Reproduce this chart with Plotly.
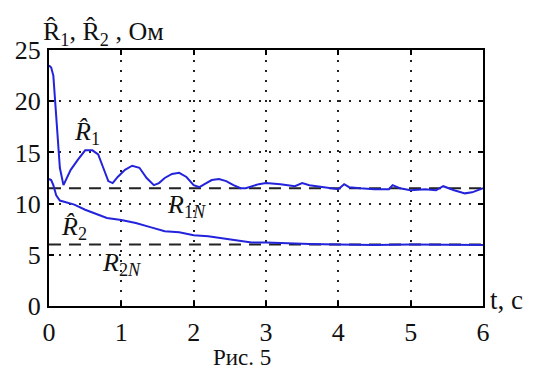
import plotly.graph_objects as go

t1 = [0, 0.03, 0.06, 0.1, 0.15, 0.2, 0.25, 0.3, 0.4, 0.5, 0.6, 0.68, 0.75, 0.82, 0.88, 0.95, 1.05, 1.15, 1.25, 1.35,
      1.45, 1.52, 1.6, 1.7, 1.8, 1.9, 2.0, 2.08, 2.15, 2.25, 2.35, 2.45, 2.55, 2.65, 2.72, 2.8, 2.9, 3.0, 3.2, 3.4,
      3.5, 3.6, 3.8, 4.0, 4.08, 4.15, 4.3, 4.5, 4.7, 4.75, 4.85, 5.0, 5.2, 5.35, 5.45, 5.6, 5.75, 5.85, 6.0]
r1 = [23.5, 23.3, 22.5, 18, 13.5, 11.8, 12.5, 13.3, 14.3, 15.2, 15.2, 14.8, 13.5, 12.2, 12.0, 12.6, 13.3, 13.7, 13.5, 12.5,
      11.8, 12.0, 12.5, 12.9, 13.0, 12.6, 11.8, 11.6, 11.9, 12.3, 12.4, 12.2, 11.8, 11.5, 11.5, 11.7, 11.9, 12.0, 11.9, 11.7,
      12.0, 11.8, 11.6, 11.4, 11.9, 11.6, 11.5, 11.4, 11.4, 11.8, 11.5, 11.3, 11.4, 11.3, 11.7, 11.3, 11.0, 11.1, 11.5]

t2 = [0, 0.03, 0.06, 0.1, 0.15, 0.25, 0.35, 0.5, 0.65, 0.8, 1.0, 1.2, 1.4, 1.6, 1.8, 2.0, 2.2, 2.4, 2.6, 2.8,
      3.0, 3.3, 3.6, 4.0, 4.5, 5.0, 5.5, 6.0]
r2 = [12.4, 12.3, 11.8, 10.8, 10.3, 10.1, 9.9, 9.4, 9.0, 8.6, 8.4, 8.1, 7.7, 7.3, 7.2, 6.9, 6.8, 6.6, 6.4, 6.2,
      6.2, 6.1, 6.05, 6.0, 5.95, 6.0, 5.95, 5.95]

r1n = 11.5
r2n = 6.0
t_range = [0, 6]
xticks = [0, 1, 2, 3, 4, 5, 6]
yticks = [0, 5, 10, 15, 20, 25]

FONT = "Liberation Serif, Times New Roman, Times, serif"
BLUE = "#2323dc"

fig = go.Figure()
fig.add_trace(go.Scatter(x=t_range, y=[r1n, r1n], mode="lines",
                         line=dict(color="#222", width=2, dash="12px,8px")))
fig.add_trace(go.Scatter(x=t_range, y=[r2n, r2n], mode="lines",
                         line=dict(color="#222", width=2, dash="12px,8px")))
fig.add_trace(go.Scatter(x=t1, y=r1, mode="lines", line=dict(color=BLUE, width=2)))
fig.add_trace(go.Scatter(x=t2, y=r2, mode="lines", line=dict(color=BLUE, width=2)))

axis_common = dict(showline=True, linecolor="black", linewidth=2, mirror="ticks",
                   ticks="inside", ticklen=5, tickcolor="black", tickwidth=2,
                   showgrid=True, gridcolor="#222", griddash="2px,8px", gridwidth=1.5,
                   zeroline=False, tickfont=dict(family=FONT, size=26, color="#111"))
fig.update_xaxes(range=[0, 6], tickvals=xticks, ticklabelstandoff=2, **axis_common)
fig.update_yaxes(range=[0, 25], tickvals=yticks, ticklabelstandoff=1, **axis_common)

lab = dict(family=FONT, size=26, color="#111")
fig.add_annotation(x=0.52, y=16.9, xref="x", yref="y", text="<i>R̂</i><sub>1</sub>", showarrow=False, font=lab)
fig.add_annotation(x=0.35, y=7.6, xref="x", yref="y", text="<i>R̂</i><sub>2</sub>", showarrow=False, font=lab)
fig.add_annotation(x=1.9, y=9.8, xref="x", yref="y", text="<i>R</i><sub>1<i>N</i></sub>", showarrow=False, font=lab)
fig.add_annotation(x=1.0, y=4.1, xref="x", yref="y", text="<i>R</i><sub>2<i>N</i></sub>", showarrow=False, font=lab)

fig.add_annotation(x=0.0, y=1.0, xref="paper", yref="paper", xanchor="left", yanchor="bottom",
                   xshift=-8, yshift=-2,
                   text="R̂<sub>1</sub>, R̂<sub>2</sub> , Ом", showarrow=False,
                   font=dict(family=FONT, size=26, color="#111"))
fig.add_annotation(x=1.0, y=0.0, xref="paper", yref="paper", xanchor="left", yanchor="middle",
                   xshift=5, yshift=6, text="t, c", showarrow=False,
                   font=dict(family=FONT, size=27, color="#111"))
fig.add_annotation(x=0.445, y=0.0, xref="paper", yref="paper", xanchor="center", yanchor="top",
                   yshift=-38, borderpad=0, text="Рис. 5", showarrow=False,
                   font=dict(family=FONT, size=23, color="#111"))

fig.update_layout(width=539, height=372, margin=dict(l=49, r=56, t=50, b=66),
                  plot_bgcolor="white", paper_bgcolor="white", showlegend=False,
                  font=dict(family=FONT))
fig.write_html("out.html")
